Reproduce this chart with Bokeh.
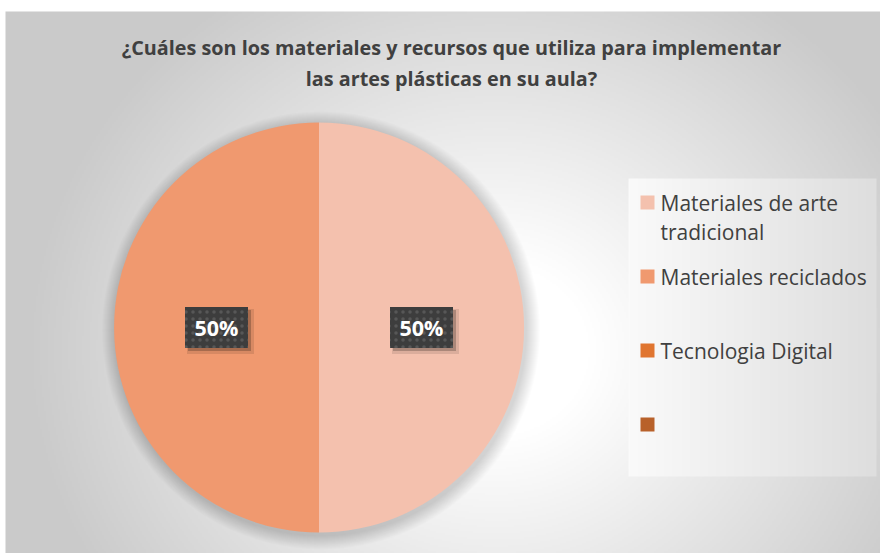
import numpy as np
from bokeh.plotting import figure
from bokeh.models import Range1d, ColumnDataSource
from bokeh.core.properties import value
from bokeh.embed import file_html
from bokeh.resources import INLINE

# ---------------- data ----------------
title_lines = ["¿Cuáles son los materiales y recursos que utiliza para implementar",
               "las artes plásticas en su aula?"]
categories = ["Materiales de arte tradicional", "Materiales reciclados", "Tecnologia Digital", ""]
legend_lines = [["Materiales de arte", "tradicional"], ["Materiales reciclados"], ["Tecnologia Digital"], [""]]
values = [1, 1, 0, 0]
colors = ["#F4C1AE", "#F0996F", "#E07530", "#B8612A"]

# ---------------- layout helpers (page pixel -> data) ----------------
W, H = 880, 553
OFF = 0
def X(px):
    return px - OFF
def Y(py):
    return H - (py - OFF)

p = figure(width=W, height=H, x_range=Range1d(0, W), y_range=Range1d(0, H),
           output_backend="svg", toolbar_location=None, min_border=0,
           x_axis_type=None, y_axis_type=None)
p.grid.visible = False
p.outline_line_color = None
p.background_fill_color = "white"
p.border_fill_color = "white"

# ---------------- background radial gradient ----------------
gx0, gy0 = X(5), Y(11)
gw, gh = (W - 5) // 2, int(gy0) // 2
xs = gx0 + (np.arange(gw) + 0.5) * ((W - gx0) / gw)
ys = (np.arange(gh) + 0.5) * (gy0 / gh)
XX, YY = np.meshgrid(xs, ys)
gcx, gcy = X(495), Y(350)
d = np.sqrt(((XX - gcx) / 470.0) ** 2 + ((YY - gcy) / 430.0) ** 2)
t = np.clip((d - 0.2) / 0.8, 0, 1)
v = (255 - (255 - 202) * t).astype(np.uint32)
img = (np.uint32(255) << 24) | (v << 16) | (v << 8) | v
p.image_rgba(image=[img], x=gx0, y=0, dw=W - gx0, dh=gy0)

# ---------------- legend background ----------------
lx0, lx1, ly0, ly1 = 628, 876, 178, 476
lw, lh = (lx1 - lx0) // 2, (ly1 - ly0) // 2
lt = np.linspace(0, 1, lw)[None, :].repeat(lh, axis=0)
lv = (250 - 28 * lt).astype(np.uint32)
limg = (np.uint32(255) << 24) | (lv << 16) | (lv << 8) | lv
p.image_rgba(image=[limg], x=X(lx0), y=Y(ly1), dw=lx1 - lx0, dh=ly1 - ly0)

# ---------------- pie ----------------
cx, cy, r = X(318.5), Y(327), 205
vals = np.array(values, dtype=float)
frac = vals / vals.sum()
ends = np.pi / 2 - 2 * np.pi * np.cumsum(frac)
starts = np.concatenate([[np.pi / 2], ends[:-1]])
nz = frac > 0

# soft shadow
for i in range(14):
    p.circle(x=cx + 2, y=cy - 3, radius=r + 14 - i, fill_color="black",
             fill_alpha=0.010, line_color=None)

src = ColumnDataSource(dict(start=starts[nz], end=ends[nz],
                            color=[c for c, k in zip(colors, nz) if k],
                            cat=[c for c, k in zip(categories, nz) if k]))
p.wedge(x=cx, y=cy, radius=r, start_angle="end", end_angle="start",
        fill_color="color", line_color=None, source=src)

# data labels
mids = (starts + ends) / 2
lab_x, lab_y, lab_t = [], [], []
for f, m in zip(frac, mids):
    if f > 0:
        lab_x.append(cx + 0.5 * r * np.cos(m))
        lab_y.append(cy + 0.5 * r * np.sin(m))
        lab_t.append(f"{round(f * 100)}%")
lab_x = np.array(lab_x); lab_y = np.array(lab_y)
p.rect(x=lab_x + 4, y=lab_y - 4, width=67, height=45, fill_color="black",
       fill_alpha=0.10, line_color=None)
p.rect(x=lab_x + 3, y=lab_y - 3, width=63, height=41, fill_color="black",
       fill_alpha=0.22, line_color=None)
p.rect(x=lab_x, y=lab_y, width=63, height=41, fill_color="#3d3d3d",
       line_color=None, hatch_pattern="dot", hatch_color="#575757",
       hatch_scale=7, hatch_weight=1.2)
p.text(x=lab_x, y=lab_y, text=lab_t, text_align="center", text_baseline="middle",
       text_font=value("Open Sans"), text_font_style="bold",
       text_font_size=value("21.5px"), text_color="white")

# ---------------- title ----------------
p.text(x=[X(451), X(451)], y=[Y(47), Y(78)], text=title_lines,
       text_align="center", text_baseline="middle",
       text_font=value("Open Sans"), text_font_style="bold",
       text_font_size=value("19.8px"), text_color="#404040")

# ---------------- legend ----------------
for i, (lines, col) in enumerate(zip(legend_lines, colors)):
    yy = 202 + 74 * i
    p.rect(x=X(647), y=Y(yy), width=14, height=14, fill_color=col, line_color=None)
    for j, ln in enumerate(lines):
        if ln:
            p.text(x=X(660), y=Y(yy + 29 * j), text=[ln], text_align="left",
                   text_baseline="middle", text_font=value("Open Sans"),
                   text_font_size=value("21px"), text_color="#404040")

open("out.html", "w").write(file_html(p, INLINE))
